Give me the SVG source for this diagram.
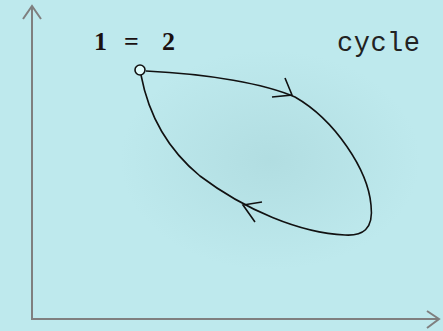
<svg xmlns="http://www.w3.org/2000/svg" width="443" height="331" viewBox="0 0 443 331">
<defs>
<radialGradient id="sh" cx="0.5" cy="0.5" r="0.5">
<stop offset="0" stop-color="#a9d6da" stop-opacity="0.6"/>
<stop offset="1" stop-color="#a9d6da" stop-opacity="0"/>
</radialGradient>
<style>
.axis{fill:none;stroke:#7f7f7f;stroke-width:2}
.curve{fill:none;stroke:#111;stroke-width:1.6}
.lbl{font-family:"Liberation Serif",serif;font-weight:bold;font-size:26px;fill:#1a1010}
.mono{font-family:"Liberation Mono",monospace;font-size:27px;fill:#222}
</style>
</defs>
<rect width="443" height="331" fill="#bee9ed"/>
<ellipse cx="270" cy="160" rx="150" ry="110" fill="url(#sh)"/>
<g id="axes">
<path class="axis" d="M32,6 V319 H439"/>
<path class="axis" d="M23,19 L32,6 L41,19"/>
<path class="axis" d="M427,311 L439,319 L427,328"/>
</g>
<g id="connectors">
<path class="curve" d="M146,71 C210,74 265,84 295,97 C335,120 368,170 371,205 C374,230 362,236 345,235 C300,233 245,210 200,176 C166,148 148,112 141,75"/>
<path class="curve" d="M285,78 L292,95 L272,97"/>
<path class="curve" d="M262,202 L243,205 L255,222"/>
</g>
<g id="state">
<circle cx="140" cy="70" r="5" fill="#e0fbfb" stroke="#111" stroke-width="1.6"/>
</g>
<g id="labels">
<text class="lbl" x="94" y="50">1</text>
<text class="lbl" x="124" y="50">=</text>
<text class="lbl" x="162" y="50">2</text>
<text class="mono" x="337" y="51" textLength="83">cycle</text>
</g>
</svg>
